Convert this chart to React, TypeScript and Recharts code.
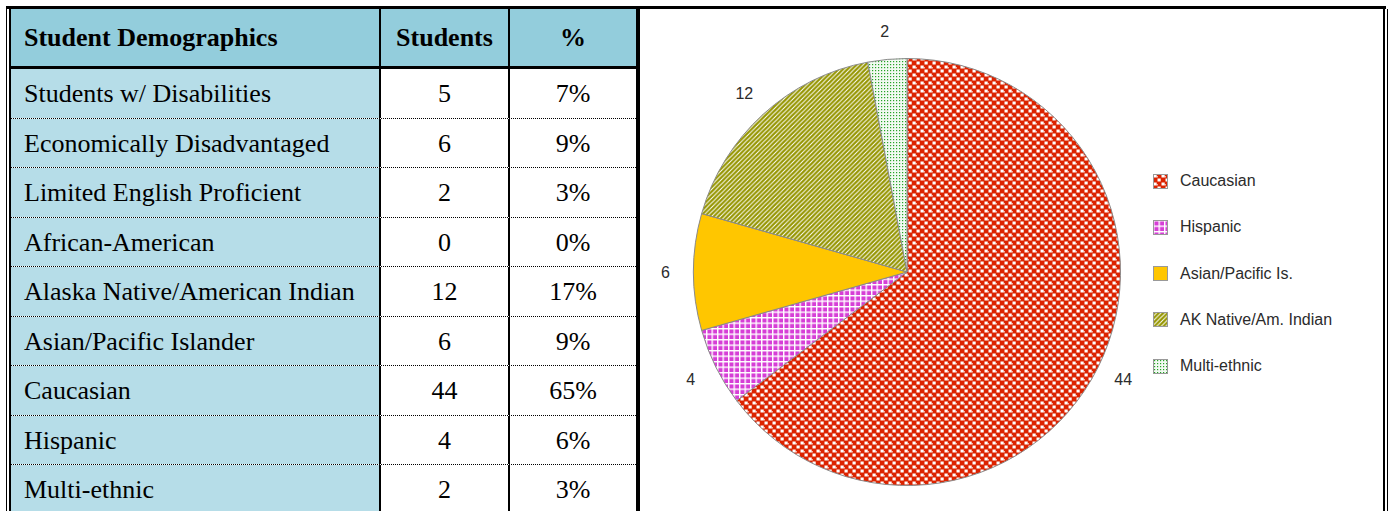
import React from "react";
import { PieChart, Pie, Cell, Legend } from "recharts";

// table data
const categories = [
  "Students w/ Disabilities",
  "Economically Disadvantaged",
  "Limited English Proficient",
  "African-American",
  "Alaska Native/American Indian",
  "Asian/Pacific Islander",
  "Caucasian",
  "Hispanic",
  "Multi-ethnic",
];
const studentCounts = [5, 6, 2, 0, 12, 6, 44, 4, 2];
const percentLabels = ["7%", "9%", "3%", "0%", "17%", "9%", "65%", "6%", "3%"];

// pie data (clockwise from 12 o'clock)
const pieGroups = [
  "Caucasian",
  "Hispanic",
  "Asian/Pacific Is.",
  "AK Native/Am. Indian",
  "Multi-ethnic",
];
const pieCounts = [44, 4, 6, 12, 2];
const pieFills = [
  "url(#pat-cauc)",
  "url(#pat-hisp)",
  "#FFC600",
  "url(#pat-ak)",
  "url(#pat-multi)",
];

const SERIF = "'Liberation Serif', 'Times New Roman', serif";
const SANS = "'Liberation Sans', Arial, sans-serif";
const HEAD_BG = "#93CDDC";
const ROW_BG = "#B6DDE8";
const RADIAN = Math.PI / 180;

function Patterns() {
  return (
    <svg width={0} height={0} style={{ position: "absolute" }}>
      <defs>
        <pattern id="pat-cauc" width={8} height={8} patternUnits="userSpaceOnUse">
          <rect width={8} height={8} fill="#DC2300" />
          <rect x={0.5} y={0.5} width={3.2} height={3} fill="#fff" />
          <rect x={4.5} y={4.5} width={3.2} height={3} fill="#fff" />
          <rect x={3.6} y={2.2} width={1.2} height={1.2} fill="#fff" />
        </pattern>
        <pattern id="pat-hisp" width={5.5} height={5.5} patternUnits="userSpaceOnUse">
          <rect width={5.5} height={5.5} fill="#D63ED6" />
          <rect x={0} y={0} width={1.4} height={5.5} fill="#fff" />
          <rect x={0} y={0} width={5.5} height={1.4} fill="#fff" />
        </pattern>
        <pattern id="pat-ak" width={4.5} height={4.5} patternUnits="userSpaceOnUse">
          <rect width={4.5} height={4.5} fill="#959500" />
          <path d="M-1,1 L1,-1 M0,4.5 L4.5,0 M3.5,5.5 L5.5,3.5" stroke="#fff" strokeWidth={1} />
        </pattern>
        <pattern id="pat-multi" width={3} height={3} patternUnits="userSpaceOnUse">
          <rect width={3} height={3} fill="#F2FAF2" />
          <rect x={1} y={1} width={1.2} height={1.2} fill="#26A326" />
        </pattern>
      </defs>
    </svg>
  );
}

function Line({ left, top, width, height }: { left: number; top: number; width: number; height: number }) {
  return <div style={{ position: "absolute", left, top, width, height, background: "#000" }} />;
}

function cellStyle(width: number, bg: string, align: "left" | "center", bold: boolean): React.CSSProperties {
  return {
    width,
    height: "100%",
    background: bg,
    display: "flex",
    alignItems: "center",
    justifyContent: align === "left" ? "flex-start" : "center",
    paddingLeft: align === "left" ? 13 : 0,
    paddingTop: bold ? 0 : 2,
    boxSizing: "border-box",
    fontFamily: SERIF,
    fontSize: 26,
    fontWeight: bold ? 700 : 400,
    color: "#000",
    whiteSpace: "nowrap",
  };
}

const divider: React.CSSProperties = { width: 2, height: "100%", background: "#000" };

function DemoTable() {
  return (
    <div style={{ position: "absolute", left: 11, top: 9, width: 625 }}>
      <div style={{ display: "flex", height: 57, borderBottom: "3px solid #000" }}>
        <div style={cellStyle(368, HEAD_BG, "left", true)}>Student Demographics</div>
        <div style={divider} />
        <div style={cellStyle(127, HEAD_BG, "center", true)}>Students</div>
        <div style={divider} />
        <div style={cellStyle(126, HEAD_BG, "center", true)}>%</div>
      </div>
      {categories.map((c, i) => (
        <div key={c} style={{ display: "flex", height: 49.5, boxSizing: "border-box", borderBottom: "1px dotted #000" }}>
          <div style={cellStyle(368, ROW_BG, "left", false)}>{c}</div>
          <div style={divider} />
          <div style={cellStyle(127, "#fff", "center", false)}>{studentCounts[i]}</div>
          <div style={divider} />
          <div style={cellStyle(126, "#fff", "center", false)}>{percentLabels[i]}</div>
        </div>
      ))}
    </div>
  );
}

const renderLabel = (p: any) => {
  const r = p.outerRadius + 28;
  const x = p.cx + r * Math.cos(-p.midAngle * RADIAN);
  const y = p.cy + r * Math.sin(-p.midAngle * RADIAN);
  return (
    <text x={x} y={y} textAnchor="middle" dominantBaseline="central" fontFamily={SANS} fontSize={16} fill="#2b2b2b">
      {p.value}
    </text>
  );
};

const renderLegend = () => (
  <div style={{ fontFamily: SANS, fontSize: 16, color: "#2b2b2b" }}>
    {pieGroups.map((g, i) => (
      <div key={g} style={{ height: 46.25, display: "flex", alignItems: "center", whiteSpace: "nowrap" }}>
        <svg width={15} height={15} style={{ marginRight: 12 }}>
          <rect x={0.5} y={0.5} width={14} height={14} fill={pieFills[i]} stroke="#999" strokeWidth={1} />
        </svg>
        {g}
      </div>
    ))}
  </div>
);

export default function App() {
  const pieData = pieGroups.map((g, i) => ({ name: g, value: pieCounts[i] }));
  return (
    <div style={{ position: "fixed", left: 0, top: 0, width: 1389, height: 511, overflow: "hidden", background: "#fff" }}>
      <Patterns />
      <DemoTable />
      <div style={{ position: "absolute", left: 640, top: 9 }}>
        <PieChart width={743} height={502} margin={{ top: 0, right: 0, bottom: 0, left: 0 }}>
          <Pie
            data={pieData}
            dataKey="value"
            nameKey="name"
            cx={267}
            cy={263}
            outerRadius={213.5}
            startAngle={90}
            endAngle={-270}
            stroke="#8a8a8a"
            strokeWidth={1}
            label={renderLabel}
            labelLine={false}
            isAnimationActive={false}
          >
            {pieData.map((d, i) => (
              <Cell key={d.name} fill={pieFills[i]} />
            ))}
          </Pie>
          <Legend
            layout="vertical"
            align="right"
            verticalAlign="top"
            content={renderLegend}
            wrapperStyle={{ left: 513, top: 149, width: 220, right: "auto", bottom: "auto" }}
          />
        </PieChart>
      </div>
      {/* frame */}
      <Line left={6} top={6} width={1380} height={3} />
      <Line left={6} top={6} width={1} height={505} />
      <Line left={9} top={6} width={2} height={505} />
      <Line left={636} top={6} width={4} height={505} />
      <Line left={1383} top={6} width={2} height={505} />
      <Line left={1387} top={9} width={1} height={502} />
    </div>
  );
}
